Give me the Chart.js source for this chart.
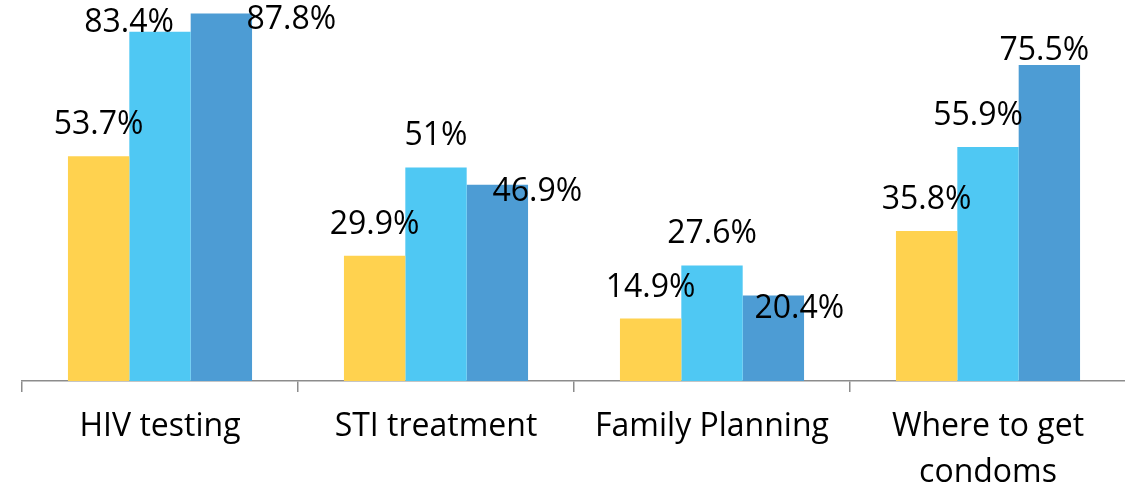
<!DOCTYPE html>
<html lang="en">
<head>
    <meta charset="UTF-8" />
    <title>Service awareness</title>
    <style>
        html, body {
            margin: 0;
            padding: 0;
            background: #fff;
            overflow: hidden;
        }
        .chart-box {
            width: 1126px;
            height: 493px;
        }
    </style>
    <script src="https://cdn.jsdelivr.net/npm/chart.js"></script>
</head>
<body>
    <div class="chart-box">
        <canvas id="chart"></canvas>
    </div>
    <script>
        // Categories and the three series (percent)
        const categories = [
            "HIV testing",
            "STI treatment",
            "Family Planning",
            ["Where to get", "condoms"],
        ];
        const seriesA = [53.7, 29.9, 14.9, 35.8];
        const seriesB = [83.4, 51, 27.6, 55.9];
        const seriesC = [87.8, 46.9, 20.4, 75.5];

        const barColors = ["#FFD24F", "#4FC8F3", "#4D9CD4"];

        // Excel moved some labels to dodge each other: [dx, dy] per point
        const labelNudge = [
            [[0, 0], [0, 0], [0, 0], [0, 0]],
            [[-31, 22], [0, 0], [0, 0], [-10, 0]],
            [[70, 38], [40, 38], [26, 44], [-5, 17]],
        ];

        const valueLabels = {
            id: "valueLabels",
            afterDatasetsDraw(chart) {
                const ctx = chart.ctx;
                ctx.save();
                ctx.font = "32px 'Open Sans'";
                ctx.fillStyle = "#000";
                ctx.textAlign = "center";
                ctx.textBaseline = "alphabetic";
                chart.data.datasets.forEach((ds, i) => {
                    chart.getDatasetMeta(i).data.forEach((bar, j) => {
                        const [dx, dy] = labelNudge[i][j];
                        ctx.fillText(ds.data[j] + "%", bar.x + dx, bar.y - 22 + dy);
                    });
                });
                ctx.restore();
            },
        };

        new Chart(document.getElementById("chart"), {
            type: "bar",
            data: {
                labels: categories,
                datasets: [seriesA, seriesB, seriesC].map((values, i) => ({
                    data: values,
                    backgroundColor: barColors[i],
                    categoryPercentage: 0.667,
                    barPercentage: 1,
                })),
            },
            options: {
                responsive: true,
                maintainAspectRatio: false,
                animation: false,
                layout: { padding: { left: 22, right: 0, top: 0, bottom: 0 } },
                plugins: {
                    legend: { display: false },
                    tooltip: { enabled: false },
                },
                scales: {
                    x: {
                        grid: {
                            drawOnChartArea: false,
                            tickLength: 11,
                            color: "#8c8c8c",
                            lineWidth: 1.5,
                        },
                        border: { color: "#8c8c8c", width: 1.5 },
                        ticks: {
                            color: "#000",
                            padding: 12,
                            maxRotation: 0,
                            autoSkip: false,
                            font: { family: "'Open Sans'", size: 32, lineHeight: 1.44 },
                        },
                        afterFit(scale) {
                            scale.height = 112;
                        },
                    },
                    y: {
                        display: false,
                        min: 0,
                        max: 91,
                    },
                },
            },
            plugins: [valueLabels],
        });
    </script>
</body>
</html>
